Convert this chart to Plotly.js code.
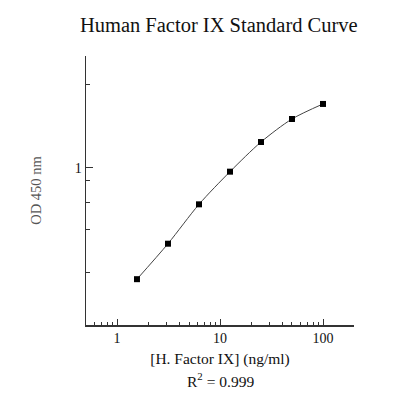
<!DOCTYPE html>
<html>
<head>
<meta charset="utf-8">
<script src="https://cdn.plot.ly/plotly-3.0.1.min.js"></script>
<style>html,body{margin:0;padding:0;background:#fff;}#chart{width:400px;height:400px;}</style>
</head>
<body>
<div id="chart"></div>
<script>
// Concentrations (ng/ml) and OD 450 nm readings
const concentration = [1.5625, 3.125, 6.25, 12.5, 25, 50, 100];
const od450 = [0.398, 0.534, 0.740, 0.970, 1.240, 1.501, 1.700];

const xTickVals = [1, 10, 100];
const xTickText = ["1", "10", "100"];
const xMinorVals = [0.6, 0.7, 0.8, 0.9, 2, 3, 4, 5, 6, 7, 8, 9, 20, 30, 40, 50, 60, 70, 80, 90, 200];
const yTickVals = [1];
const yTickText = ["1"];
const yMinorVals = [2, 0.9, 0.75, 0.6, 0.42];

const serif = "Liberation Serif, Times New Roman, serif";

const trace = {
  x: concentration,
  y: od450,
  type: "scatter",
  mode: "lines+markers",
  line: {shape: "spline", smoothing: 0.8, color: "#444", width: 1},
  marker: {symbol: "square", size: 6, color: "#000"},
  hoverinfo: "none"
};

const layout = {
  width: 400, height: 400,
  margin: {l: 86, r: 46, t: 56, b: 75},
  paper_bgcolor: "#fff", plot_bgcolor: "#fff",
  showlegend: false,
  title: {text: "Human Factor IX Standard Curve", font: {family: serif, size: 20.5, color: "#111"}, x: 0.547, xanchor: "center", y: 0.937, yanchor: "middle"},
  xaxis: {
    type: "log",
    range: [Math.log10(0.5), Math.log10(200)],
    tickmode: "array", tickvals: xTickVals, ticktext: xTickText,
    ticks: "inside", ticklen: 6, tickwidth: 1, tickcolor: "#333",
    minor: {tickmode: "array", tickvals: xMinorVals, ticks: "inside", ticklen: 3, tickwidth: 1, tickcolor: "#333", showgrid: false},
    showline: true, linecolor: "#333", linewidth: 1.5,
    showgrid: false, zeroline: false,
    tickfont: {family: serif, size: 14, color: "#111"},
    title: {text: "[H. Factor IX] (ng/ml)", font: {family: serif, size: 15.5, color: "#111"}, standoff: 8}
  },
  yaxis: {
    type: "log",
    range: [-0.565, 0.403],
    tickmode: "array", tickvals: yTickVals, ticktext: yTickText,
    ticks: "inside", ticklen: 7, tickwidth: 1, tickcolor: "#333",
    minor: {tickmode: "array", tickvals: yMinorVals, ticks: "inside", ticklen: 4, tickwidth: 1, tickcolor: "#333", showgrid: false},
    showline: true, linecolor: "#333", linewidth: 1.5,
    showgrid: false, zeroline: false,
    tickfont: {family: serif, size: 14, color: "#111"},
    title: {text: "OD 450 nm", font: {family: serif, size: 14.5, color: "#555"}, standoff: 29}
  },
  annotations: [{
    text: "R<sup>2</sup> = 0.999", xref: "paper", yref: "paper",
    x: 0.5, y: -0.16, xanchor: "center", yanchor: "top",
    showarrow: false, font: {family: serif, size: 15.5, color: "#111"}
  }]
};

Plotly.newPlot("chart", [trace], layout, {staticPlot: true, displayModeBar: false});
</script>
</body>
</html>
